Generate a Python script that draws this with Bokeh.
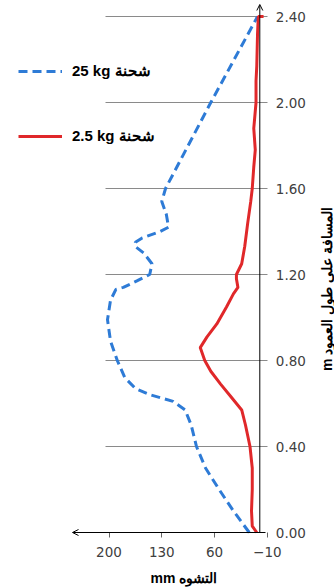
import math
from bokeh.plotting import figure
from bokeh.models import (Range1d, FixedTicker, LinearAxis, Arrow, OpenHead, Legend,
                          LegendItem, Label, NumeralTickFormatter)
from bokeh.embed import file_html
from bokeh.resources import INLINE

# ---- data (deflection in mm, distance along column in m) ----
depth_25 = [0.00, 0.10, 0.20, 0.30, 0.40, 0.50, 0.57, 0.61, 0.64, 0.67, 0.72, 0.80,
            0.89, 0.99, 1.08, 1.13, 1.14, 1.17, 1.20, 1.25, 1.30, 1.33, 1.35, 1.37,
            1.40, 1.42, 1.48, 1.54, 1.60, 2.00, 2.40]
defl_25 = [14, 35, 54, 72, 84, 91, 99, 115, 145, 165, 179, 189,
           198, 202, 198, 191, 181, 163, 146, 143, 154, 165, 165, 156,
           132, 121, 124, 130, 125, 65, 3]

depth_2_5 = [0.00, 0.03, 0.10, 0.20, 0.30, 0.40, 0.45, 0.50, 0.57, 0.63, 0.69, 0.75,
             0.80, 0.86, 0.91, 0.97, 1.05, 1.11, 1.14, 1.18, 1.20, 1.25, 1.33, 1.44,
             1.54, 1.60, 1.70, 1.78, 1.88, 2.00, 2.10, 2.17, 2.32, 2.40, 2.40]
defl_2_5 = [4, 10, 11, 10, 10, 13, 16, 19, 24, 38, 52, 65,
            73, 79, 70, 57, 44, 35, 29, 31, 31, 24, 20, 16,
            12, 10, 8, 6, 8, 5, 5, 4, 3, 2, -5]

x_ticks = [200, 130, 60, -10]
y_ticks = [0.0, 0.4, 0.8, 1.2, 1.6, 2.0, 2.4]
series_labels = ["25 kg شحنة", "2.5 kg شحنة"]
x_title = "mm التشوه"
y_title = "m المسافة على طول العمود"

W, H = 334, 587
# pixel calibration of the original chart
X_ZERO_PX, X_PER_UNIT = 259.3, 0.754
Y_ZERO_PX, Y_PER_UNIT = 532.0, 215.0

def xv(px):
    return (X_ZERO_PX - px) / X_PER_UNIT

def yv(py):
    return (Y_ZERO_PX - py) / Y_PER_UNIT

TICK_FONT = "DejaVu Sans"
TEXT_FONT = "Liberation Sans"
TICK_COLOR = "#404040"

p = figure(width=W, height=H, output_backend="svg", toolbar_location=None,
           x_range=Range1d(xv(0), xv(W)), y_range=Range1d(yv(H), yv(0)),
           x_axis_type=None, y_axis_type=None,
           min_border_left=0, min_border_top=0, min_border_right=0, min_border_bottom=0)
p.outline_line_color = None
p.background_fill_color = "white"
p.border_fill_color = "white"

# grid lines (limited horizontal extent, as in the original)
grid_y = [t for t in y_ticks if t > 0]
p.segment(x0=[xv(105)] * len(grid_y), x1=[xv(267)] * len(grid_y), y0=grid_y, y1=grid_y,
          line_color="#8a8a8a", line_width=1)

# axis lines with arrow heads
p.add_layout(Arrow(end=OpenHead(size=6, line_width=1, line_color="black"),
                   x_start=0, y_start=0, x_end=0, y_end=yv(4),
                   line_color="black", line_width=1))
p.add_layout(Arrow(end=OpenHead(size=6, line_width=1, line_color="black"),
                   x_start=xv(265), y_start=0, x_end=xv(72), y_end=0,
                   line_color="black", line_width=1))

# data series
r25 = p.line(defl_25, depth_25, line_color="#2E7BD6", line_width=3, line_dash="9 5")
r2 = p.line(defl_2_5, depth_2_5, line_color="#E0282A", line_width=3)

# x axis ticks + labels at y = 0
xaxis = LinearAxis(ticker=FixedTicker(ticks=x_ticks), fixed_location=0,
                   axis_line_color=None,
                   major_tick_out=5, major_tick_in=0, major_tick_line_color="#666666",
                   minor_tick_line_color=None, major_label_standoff=9,
                   major_label_text_font=TICK_FONT, major_label_text_font_size="13.5px",
                   major_label_text_color=TICK_COLOR)
p.add_layout(xaxis, "below")

# y axis labels on the right of the grid
yaxis = LinearAxis(ticker=FixedTicker(ticks=y_ticks), fixed_location=xv(266.3),
                   formatter=NumeralTickFormatter(format="0.00"),
                   axis_line_color=None, major_tick_line_color=None, major_tick_out=0,
                   major_tick_in=0, minor_tick_line_color=None, major_label_standoff=9,
                   major_label_text_font=TICK_FONT, major_label_text_font_size="13.5px",
                   major_label_text_color=TICK_COLOR)
p.add_layout(yaxis, "right")

# axis titles
p.add_layout(Label(x=xv(183.5), y=yv(577), text=x_title, text_align="center",
                   text_baseline="middle", text_font=TEXT_FONT, text_font_size="14px",
                   text_font_style="bold", text_color="black"))
p.add_layout(Label(x=xv(326), y=yv(288.5), text=y_title, angle=math.pi / 2,
                   text_align="center", text_baseline="middle", text_font=TEXT_FONT,
                   text_font_size="14px", text_font_style="bold", text_color="black"))

legend = Legend(items=[LegendItem(label=series_labels[0], renderers=[r25]),
                       LegendItem(label=series_labels[1], renderers=[r2])],
                location=(18, H - 146), glyph_width=44, glyph_height=20, label_height=20,
                label_standoff=10, spacing=45, padding=0, margin=0,
                border_line_color=None, background_fill_alpha=0,
                label_text_font=TEXT_FONT, label_text_font_size="15px",
                label_text_font_style="bold", label_text_color="black")
p.add_layout(legend)

open("out.html", "w").write(file_html(p, INLINE))
